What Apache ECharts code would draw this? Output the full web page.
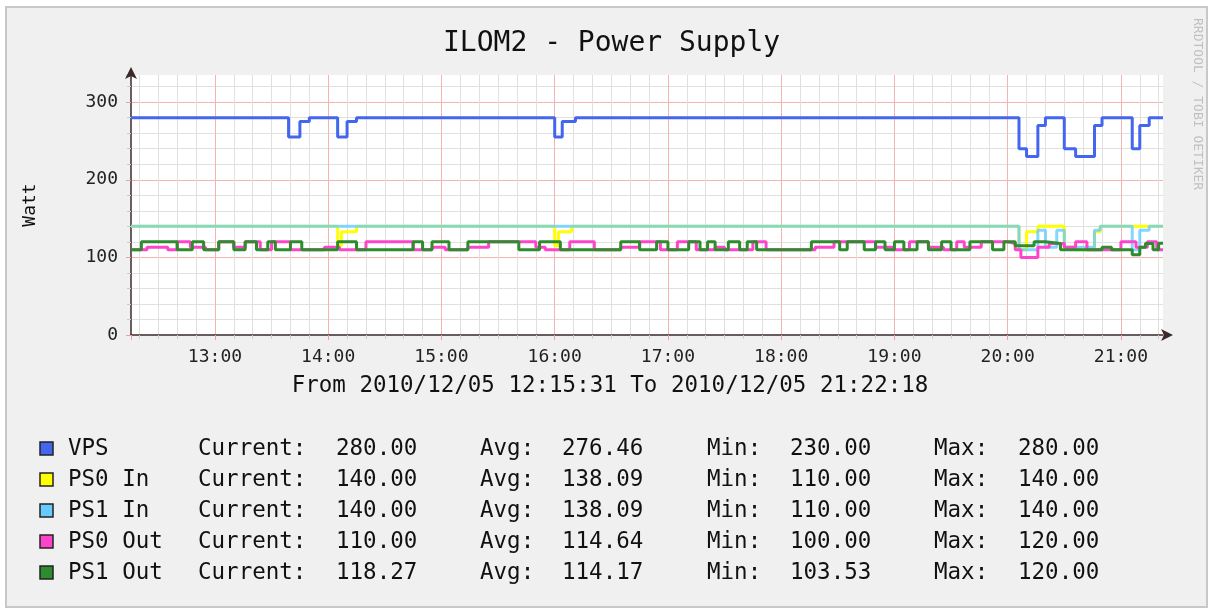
<!DOCTYPE html>
<html>
<head>
<meta charset="utf-8">
<title>ILOM2 - Power Supply</title>
<script src="https://cdn.jsdelivr.net/npm/echarts@6/dist/echarts.min.js"></script>
<style>
  html, body { margin: 0; padding: 0; background: #fff; }
  #frame { position: absolute; left: 5px; top: 6px; width: 1199px; height: 598px;
           background: #f0f0f0; border: 2px solid #c8c8c8; }
  #chart { position: absolute; left: 0; top: 0; width: 1211px; height: 610px; }
</style>
</head>
<body>
<div id="frame"></div>
<div id="chart"></div>
<script>
// time range of the graph
const startTime = '12:15:31';
const endTime = '21:22:18';

const seriesNames = ['VPS', 'PS0 In', 'PS1 In', 'PS0 Out', 'PS1 Out'];
const seriesColors = ['#4466EE', '#FFFF00', '#66CCFF', '#FF44CC', '#2E8B2E'];
const lineOpacity = [1, 1, 0.8, 1, 1];

// step data: [time the value starts, value]
const vps = [
  ['12:15:31', 280], ['13:39', 255], ['13:45', 275], ['13:50', 280],
  ['14:05', 255], ['14:10', 275], ['14:15', 280], ['16:00', 255], ['16:04', 275], ['16:11', 280],
  ['20:06', 240], ['20:10', 230], ['20:16', 270], ['20:20', 280], ['20:30', 240], ['20:36', 230],
  ['20:46', 270], ['20:50', 280], ['21:06', 240], ['21:10', 270], ['21:15', 280], ['21:22:18', 280]
];
const ps0In = [
  ['12:15:31', 140], ['14:05', 115], ['14:07', 133], ['14:15', 140],
  ['16:00', 115], ['16:02', 133], ['16:09', 140], ['20:06', 110], ['20:10', 133], ['20:16', 140],
  ['20:30', 113], ['20:36', 110], ['20:46', 133], ['20:49', 140], ['21:22:18', 140]
];
const ps1In = [
  ['12:15:31', 140], ['20:06', 110], ['20:16', 135], ['20:20', 113], ['20:26', 135], ['20:30', 113],
  ['20:46', 135], ['20:49', 140], ['21:06', 110], ['21:10', 135], ['21:15', 140], ['21:22:18', 140]
];
const ps0Out = [
  ['12:15:31', 110], ['12:24', 113], ['12:35', 110], ['12:40', 120], ['12:47', 113], ['12:55', 110],
  ['13:02', 120], ['13:10', 113], ['13:16', 120], ['13:24', 110], ['13:30', 120], ['13:40', 110],
  ['13:58', 113], ['14:06', 110], ['14:20', 120], ['14:45', 110], ['14:55', 113], ['15:02', 110],
  ['15:14', 113], ['15:25', 120], ['15:50', 113], ['15:55', 110], ['16:08', 120], ['16:21', 110],
  ['16:35', 113], ['16:45', 120], ['16:56', 110], ['17:05', 120], ['17:15', 110], ['17:25', 113],
  ['17:30', 110], ['17:45', 120], ['17:52', 110], ['18:18', 113], ['18:28', 120], ['18:50', 113],
  ['18:59', 110], ['19:08', 120], ['19:18', 113], ['19:26', 110], ['19:33', 120], ['19:37', 113],
  ['19:46', 120], ['20:00', 118], ['20:04', 110], ['20:07', 100], ['20:16', 113], ['20:22', 118],
  ['20:30', 113], ['20:36', 120], ['20:42', 110], ['21:00', 120], ['21:08', 113], ['21:14', 120],
  ['21:19', 110], ['21:22:18', 110]
];
const ps1Out = [
  ['12:15:31', 110], ['12:21', 120], ['12:40', 110], ['12:48', 120], ['12:54', 110], ['13:02', 120],
  ['13:10', 110], ['13:16', 120], ['13:22', 110], ['13:28', 120], ['13:32', 110], ['13:40', 120],
  ['13:46', 110], ['14:05', 120], ['14:15', 110], ['14:45', 120], ['14:50', 110], ['14:55', 120],
  ['15:04', 110], ['15:14', 120], ['15:41', 110], ['15:52', 120], ['16:03', 110], ['16:35', 120],
  ['16:45', 110], ['16:54', 120], ['17:00', 110], ['17:11', 120], ['17:17', 110], ['17:21', 120],
  ['17:25', 110], ['17:32', 120], ['17:38', 110], ['17:42', 120], ['17:47', 110], ['18:16', 120],
  ['18:31', 110], ['18:35', 120], ['18:44', 110], ['18:50', 120], ['18:55', 110], ['19:00', 120],
  ['19:05', 110], ['19:12', 120], ['19:18', 110], ['19:25', 120], ['19:30', 110], ['19:40', 120],
  ['19:52', 110], ['19:58', 120], ['20:04', 115], ['20:14', 120], ['20:20', 118], ['20:28', 110],
  ['20:50', 113], ['20:55', 110], ['21:06', 103.53], ['21:10', 113], ['21:13', 118], ['21:17', 110],
  ['21:20', 118.27], ['21:22:18', 118.27]
];

// legend stats
const currentVals = [280.00, 140.00, 140.00, 110.00, 118.27];
const avgVals = [276.46, 138.09, 138.09, 114.64, 114.17];
const minVals = [230.00, 110.00, 110.00, 100.00, 103.53];
const maxVals = [280.00, 140.00, 140.00, 120.00, 120.00];

const MONO = '"DejaVu Sans Mono", "Liberation Mono", monospace';

function toHours(s) {
  const p = s.split(':').map(Number);
  return p[0] + p[1] / 60 + (p[2] || 0) / 3600;
}
function pad(n) { return (n < 10 ? '0' : '') + n; }

const allData = [vps, ps0In, ps1In, ps0Out, ps1Out];

const series = allData.map((d, i) => ({
  name: seriesNames[i],
  type: 'line',
  step: 'end',
  showSymbol: false,
  data: d.map(p => [toHours(p[0]), p[1]]),
  lineStyle: { color: seriesColors[i], width: 3, opacity: lineOpacity[i] },
  itemStyle: { color: seriesColors[i] },
  z: 3 + i
}));

// legend block drawn as graphic text
const legendGraphics = [];
const rowY0 = 449, rowStep = 31;
const legendFont = '22.5px ' + MONO;
seriesNames.forEach((name, i) => {
  const y = rowY0 + i * rowStep;
  legendGraphics.push({
    type: 'rect', shape: { x: 40, y: y - 7, width: 13, height: 13 },
    style: { fill: seriesColors[i], stroke: '#222', lineWidth: 1.5 }
  });
  const cols = [
    [68, name], [198, 'Current:'], [336, currentVals[i].toFixed(2)],
    [480, 'Avg:'], [562, avgVals[i].toFixed(2)],
    [707, 'Min:'], [790, minVals[i].toFixed(2)],
    [934, 'Max:'], [1018, maxVals[i].toFixed(2)]
  ];
  cols.forEach(c => legendGraphics.push({
    type: 'text', x: c[0], y: y,
    style: { text: c[1], fill: '#111', font: legendFont, textAlign: 'left', textVerticalAlign: 'middle' }
  }));
});

const chart = echarts.init(document.getElementById('chart'));
chart.setOption({
  animation: false,
  backgroundColor: 'transparent',
  title: {
    text: 'ILOM2 - Power Supply',
    left: 438, top: 25,
    textStyle: { fontFamily: MONO, fontSize: 28, fontWeight: 'normal', color: '#111' }
  },
  grid: {
    left: 131, right: 48, top: 75, bottom: 275,
    show: true, backgroundColor: '#ffffff', borderWidth: 0
  },
  xAxis: {
    type: 'value',
    min: toHours(startTime), max: toHours(endTime),
    splitNumber: 9, minInterval: 1, maxInterval: 1,
    axisLine: {
      show: true, onZero: false,
      lineStyle: { color: '#3a2a2a', width: 1.5 },
      symbol: ['none', 'arrow'], symbolSize: [9, 12], symbolOffset: [0, 10]
    },
    axisTick: { show: true, length: 5, lineStyle: { color: '#f0a0a0' } },
    minorTick: { show: true, splitNumber: 6, length: 4, lineStyle: { color: '#cccccc' } },
    splitLine: { show: true, showMinLine: false, showMaxLine: false, lineStyle: { color: '#f4b4b4', width: 1 } },
    minorSplitLine: { show: true, lineStyle: { color: '#e0e0e0', width: 1 } },
    axisLabel: {
      show: true, margin: 13, color: '#222', fontFamily: MONO, fontSize: 18,
      showMinLabel: false, showMaxLabel: false,
      formatter: v => pad(Math.round(v)) + ':00'
    }
  },
  yAxis: {
    type: 'value', min: 0, max: 335, interval: 100,
    name: 'Watt', nameLocation: 'middle', nameGap: 92,
    nameTextStyle: { fontFamily: MONO, fontSize: 18, color: '#111' },
    axisLine: {
      show: true, onZero: false,
      lineStyle: { color: '#3a2a2a', width: 1.5 },
      symbol: ['none', 'arrow'], symbolSize: [9, 12], symbolOffset: [0, 8]
    },
    axisTick: { show: true, length: 5, lineStyle: { color: '#f0a0a0' } },
    minorTick: { show: true, splitNumber: 5, length: 4, lineStyle: { color: '#cccccc' } },
    splitLine: { show: true, showMinLine: false, showMaxLine: false, lineStyle: { color: '#f4b4b4', width: 1 } },
    minorSplitLine: { show: true, lineStyle: { color: '#e0e0e0', width: 1 } },
    axisLabel: {
      margin: 13, color: '#222', fontFamily: MONO, fontSize: 18,
      showMaxLabel: false
    }
  },
  graphic: [
    {
      type: 'text', x: 610, y: 386,
      style: {
        text: 'From 2010/12/05 ' + startTime + ' To 2010/12/05 ' + endTime,
        fill: '#111', font: '22.5px ' + MONO, textAlign: 'center', textVerticalAlign: 'middle'
      }
    },
    {
      type: 'text', x: 1197, y: 18, rotation: -Math.PI / 2,
      style: {
        text: 'RRDTOOL / TOBI OETIKER', fill: '#c0c0c0', font: '13px ' + MONO,
        textAlign: 'left', textVerticalAlign: 'middle'
      }
    }
  ].concat(legendGraphics),
  series: series
});
</script>
</body>
</html>
